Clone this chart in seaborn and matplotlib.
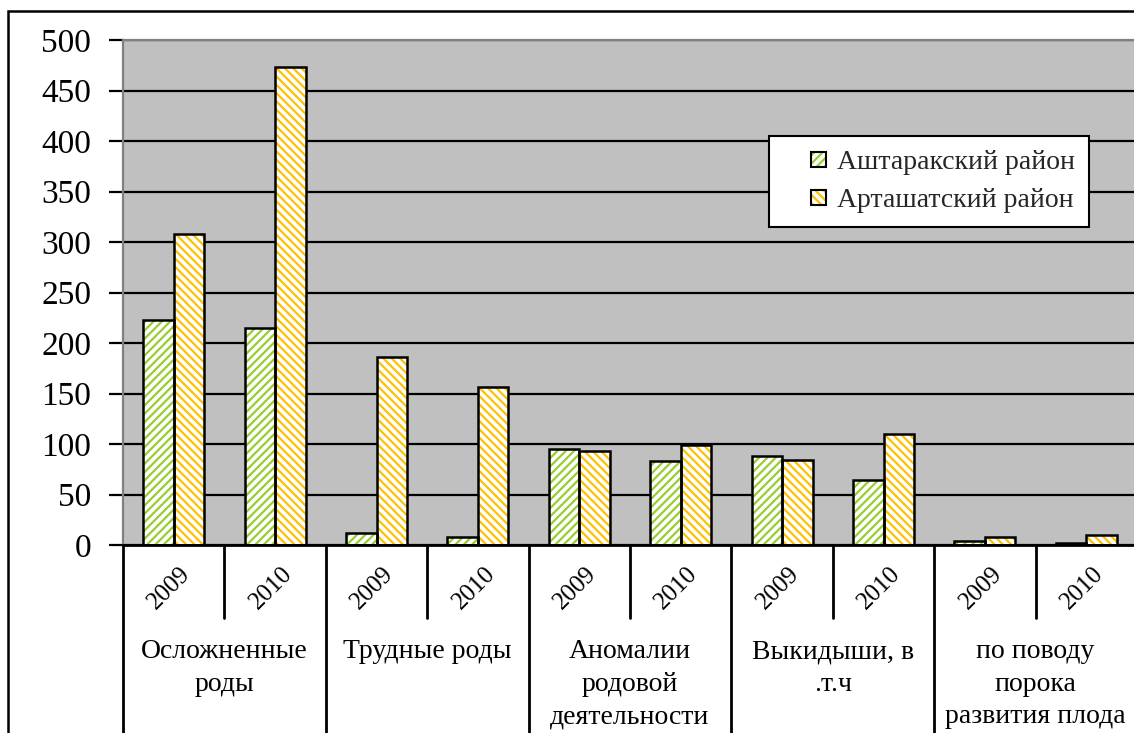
import matplotlib
matplotlib.use("Agg")
import matplotlib.pyplot as plt
import matplotlib.transforms as mtransforms
from matplotlib.patches import Rectangle
from matplotlib.lines import Line2D
from matplotlib.legend_handler import HandlerBase
import seaborn as sns
import pandas as pd

# ---- data -------------------------------------------------------------
groups = ["Осложненные\nроды", "Трудные роды", "Аномалии\nродовой\nдеятельности",
          "Выкидыши, в\n.т.ч", "по поводу\nпорока\nразвития плода"]
years = ["2009", "2010"]
series_names = ["Аштаракский район", "Арташатский район"]
ashtarak = [223, 215, 12, 8, 95, 83, 88, 64, 4, 2]
artashat = [308, 473, 186, 156, 93, 99, 84, 110, 8, 10]
y_ticks = [0, 50, 100, 150, 200, 250, 300, 350, 400, 450, 500]

# long-form table: one row per bar
keys = [f"{g}|{y}" for g in groups for y in years]
df = pd.DataFrame({
    "key": keys * 2,
    "series": [series_names[0]] * len(keys) + [series_names[1]] * len(keys),
    "value": ashtarak + artashat,
})

# ---- style ------------------------------------------------------------
sns.set_theme(style="white")
plt.rcParams["font.family"] = ["Liberation Serif", "DejaVu Serif"]
plt.rcParams["hatch.linewidth"] = 1.6

W, H = 1134, 733
fig = plt.figure(figsize=(W / 100, H / 100), dpi=100)
fig.patch.set_facecolor("white")

def fx(p):
    return p / W

def fy(p):
    return 1 - p / H

ax = fig.add_axes([fx(123), fy(545), fx(1137) - fx(123), fy(40) - fy(545)])
ax.set_facecolor("#C0C0C0")

hatch_colors = ["#9ACD32", "#FFC000"]
hatches = ["////", "\\\\\\\\"]

sns.barplot(data=df, x="key", y="value", hue="series", order=keys,
            hue_order=series_names, width=0.6, ax=ax, legend=False,
            palette=["white", "white"], saturation=1)

# hatched fill plus a separate black outline for every bar
for cont, hc, ht in zip(ax.containers, hatch_colors, hatches):
    for bar in cont:
        bar.set_facecolor("white")
        bar.set_edgecolor(hc)
        bar.set_hatch(ht)
        bar.set_linewidth(0)
        ax.add_patch(Rectangle(bar.get_xy(), bar.get_width(), bar.get_height(),
                               fill=False, edgecolor="black", linewidth=1.8, zorder=3))

ax.set_xlim(-0.5, len(keys) - 0.5)
ax.set_ylim(0, 500)
ax.set_yticks(y_ticks)
ax.set_yticklabels([str(t) for t in y_ticks], fontsize=24, color="black")
ax.set_xticks([])
ax.set_xlabel("")
ax.set_ylabel("")
ax.yaxis.grid(True, color="black", linewidth=1.6)
ax.set_axisbelow(True)
ax.tick_params(axis="y", direction="out", length=10, width=1.6, color="black",
               left=True, pad=13)

for side in ["top", "left"]:
    ax.spines[side].set_visible(True)
    ax.spines[side].set_color("#808080")
    ax.spines[side].set_linewidth(1.6)
ax.spines["right"].set_visible(False)
ax.spines["bottom"].set_color("black")
ax.spines["bottom"].set_linewidth(2)
ax.spines["bottom"].set_zorder(5)

# ---- two-level category axis -------------------------------------------
bt = mtransforms.blended_transform_factory(ax.transData, fig.transFigure)
for i in range(len(keys) + 1):
    x = i - 0.5
    y_end = fy(733) if i % 2 == 0 else fy(618)
    fig.add_artist(Line2D([x, x], [fy(545), y_end], transform=bt,
                          color="black", linewidth=2, clip_on=False))

for i, k in enumerate(keys):
    yr = k.split("|")[1]
    ax.text(i - 0.04, fy(588), yr, transform=bt, rotation=45, ha="center",
            va="center", rotation_mode="anchor", fontsize=18, color="black")

for gi, g in enumerate(groups):
    ax.text(2 * gi + 0.5, fy(639), g, transform=bt, ha="center", va="top",
            fontsize=20, color="black", linespacing=1.4)


# ---- legend -----------------------------------------------------------
class SquareKey(HandlerBase):
    """Small hatched square placed at the right end of the handle slot."""

    def create_artists(self, legend, orig_handle, xdescent, ydescent,
                       width, height, fontsize, trans):
        hc, ht = orig_handle
        s = 0.55 * fontsize
        x0 = -xdescent + width - s
        y0 = -ydescent + (height - s) / 2
        fill = Rectangle((x0, y0), s, s, facecolor="white", edgecolor=hc,
                         hatch=ht, linewidth=0, transform=trans)
        outline = Rectangle((x0, y0), s, s, fill=False, edgecolor="black",
                            linewidth=1.5, transform=trans)
        return [fill, outline]


keys_legend = [tuple(p) for p in zip(hatch_colors, hatches)]
leg = ax.legend(keys_legend, series_names, loc="upper left",
                handler_map={tuple: SquareKey()},
                bbox_to_anchor=(fx(769), fy(136)), bbox_transform=fig.transFigure,
                borderaxespad=0, fontsize=20, frameon=True, fancybox=False,
                handlelength=1.55, handleheight=0.7, handletextpad=0.4,
                borderpad=0.5, labelspacing=0.45)
leg.get_frame().set_edgecolor("black")
leg.get_frame().set_linewidth(1.5)
leg.get_frame().set_facecolor("white")
leg.get_frame().set_alpha(1)
leg.set_zorder(10)

# ---- outer chart border -------------------------------------------------
fig.add_artist(Rectangle((fx(8), fy(760)), 1.2, fy(11) - fy(760),
                         transform=fig.transFigure, fill=False,
                         edgecolor="black", linewidth=1.8, clip_on=False))

fig.savefig("out.png", dpi=100)
